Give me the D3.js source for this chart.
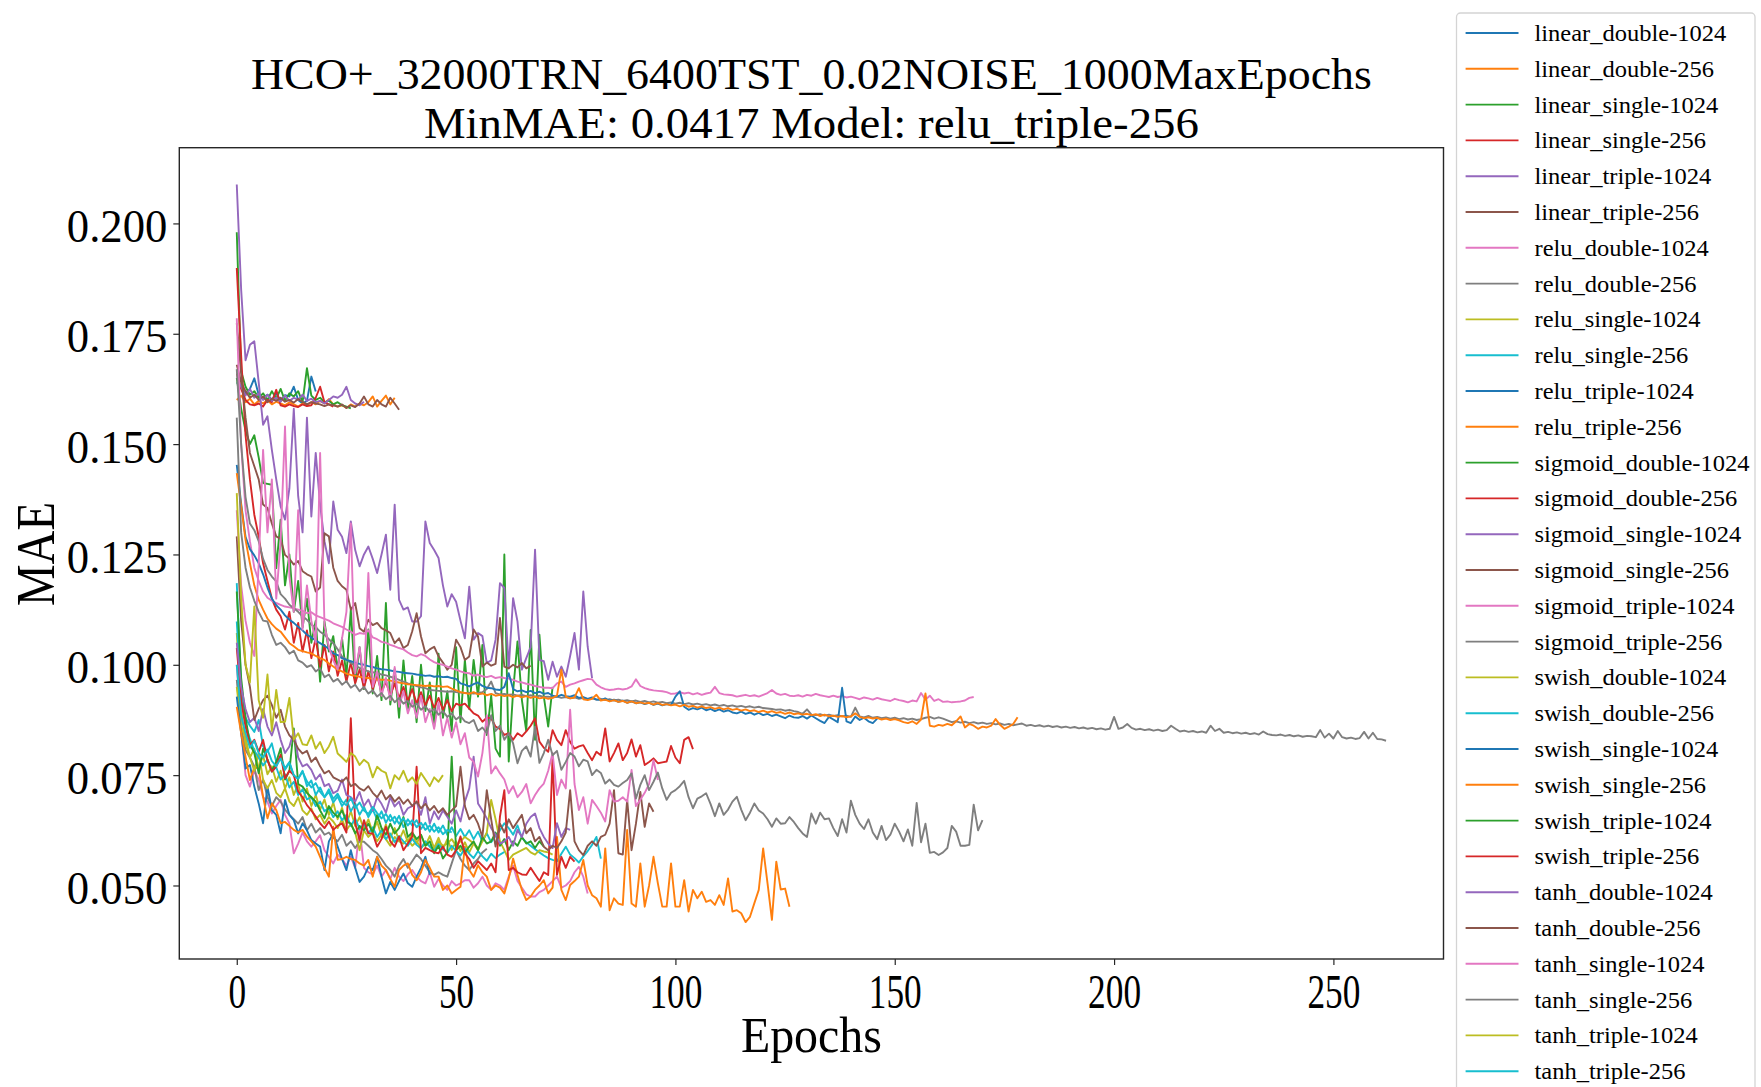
<!DOCTYPE html>
<html>
<head>
<meta charset="utf-8">
<script src="https://cdn.jsdelivr.net/npm/d3@7"></script>
<style>
  body { margin: 0; background: #fff; }
  svg { display: block; }
  text { font-family: "Liberation Serif", "Times New Roman", serif; fill: #000; }
</style>
</head>
<body>
<svg id="chart" width="1761" height="1087"></svg>
<script>
// ---- labels ----
const titleLines = ["HCO+_32000TRN_6400TST_0.02NOISE_1000MaxEpochs", "MinMAE: 0.0417 Model: relu_triple-256"];
const xLabel = "Epochs";
const yLabel = "MAE";
const xTicks = [0, 50, 100, 150, 200, 250];
const yTicks = [0.050, 0.075, 0.100, 0.125, 0.150, 0.175, 0.200];
const yTickLabels = ["0.050", "0.075", "0.100", "0.125", "0.150", "0.175", "0.200"];

const seriesNames = [
  "linear_double-1024", "linear_double-256", "linear_single-1024", "linear_single-256",
  "linear_triple-1024", "linear_triple-256", "relu_double-1024", "relu_double-256",
  "relu_single-1024", "relu_single-256", "relu_triple-1024", "relu_triple-256",
  "sigmoid_double-1024", "sigmoid_double-256", "sigmoid_single-1024", "sigmoid_single-256",
  "sigmoid_triple-1024", "sigmoid_triple-256", "swish_double-1024", "swish_double-256",
  "swish_single-1024", "swish_single-256", "swish_triple-1024", "swish_triple-256",
  "tanh_double-1024", "tanh_double-256", "tanh_single-1024", "tanh_single-256",
  "tanh_triple-1024", "tanh_triple-256"
];

// ---- validation MAE per epoch (index = epoch) ----
const linear_double_1024 = [0.1640,0.1630,0.1615,0.1625,0.1649,0.1612,0.1605,0.1612,0.1600,0.1615,0.1598,0.1611,0.1608,0.1630,0.1600,0.1592,0.1598,0.1653,0.1619];
const linear_double_256 = [0.1600,0.1610,0.1595,0.1603,0.1590,0.1598,0.1592,0.1600,0.1590,0.1596,0.1592,0.1588,0.1595,0.1590,0.1585,0.1592,0.1588,0.1595,0.1590,0.1598,0.1592,0.1602,0.1590,0.1585,0.1588,0.1582,0.1590,0.1585,0.1592,0.1588,0.1595,0.1608,0.1585,0.1598,0.1610,0.1590,0.1605];
const linear_single_1024 = [0.1980,0.1665,0.1630,0.1612,0.1620,0.1605,0.1615,0.1600,0.1620,0.1603,0.1625,0.1598,0.1615,0.1608,0.1620,0.1595,0.1672,0.1610,0.1600,0.1605,0.1595,0.1598,0.1590,0.1595,0.1588,0.1585,0.1581];
const linear_single_256 = [0.1660,0.1625,0.1600,0.1590,0.1588,0.1592,0.1585,0.1600,0.1595,0.1623,0.1588,0.1585,0.1590,0.1586,0.1584,0.1590,0.1586,0.1588,0.1605,0.1630,0.1595,0.1590,0.1585];
const linear_triple_1024 = [0.1650,0.1630,0.1610,0.1625,0.1605,0.1615,0.1600,0.1612,0.1598,0.1605,0.1596,0.1610,0.1598,0.1605,0.1600,0.1612,0.1598,0.1603,0.1595,0.1598,0.1592,0.1600,0.1608,0.1605,0.1612,0.1630,0.1600,0.1592,0.1588,0.1596];
const linear_triple_256 = [0.1680,0.1640,0.1620,0.1605,0.1612,0.1600,0.1608,0.1595,0.1603,0.1598,0.1605,0.1596,0.1600,0.1594,0.1602,0.1596,0.1590,0.1595,0.1592,0.1590,0.1586,0.1590,0.1588,0.1585,0.1590,0.1582,0.1588,0.1584,0.1592,0.1608,0.1590,0.1585,0.1600,0.1590,0.1585,0.1605,0.1592,0.1578];

const relu_double_1024 = [0.1000,0.0850,0.0750,0.0724,0.0760,0.0740,0.0700,0.0690,0.0663,0.0680,0.0694,
  0.0660,0.0640,0.0573,0.0595,0.0620,0.0600,0.0588,0.0600,0.0614,0.0580,
  0.0565,0.0550,0.0570,0.0560,0.0545,0.0565,0.0540,0.0629,0.0540,0.0530,
  0.0525,0.0545,0.0520,0.0535,0.0515,0.0540,0.0520,0.0510,0.0525,0.0535,
  0.0520,0.0510,0.0505,0.0530,0.0497,0.0515,0.0500,0.0490,0.0510,0.0500,
  0.0505,0.0512,0.0512,0.0495,0.0505,0.0520,0.0500,0.0490,0.0505,0.0500,
  0.0490,0.0520,0.0545,0.0510,0.0495,0.0480,0.0475,0.0475,0.0485,0.0490,
  0.0500,0.0510,0.0520,0.0495,0.0500,0.0510,0.0530,0.0542,0.0520,0.0482];
const relu_double_256 = [0.0966,0.0860,0.0807,0.0790,0.0770,0.0716,0.0740,0.0700,0.0680,0.0700,0.0690,
  0.0672,0.0660,0.0650,0.0640,0.0655,0.0625,0.0640,0.0620,0.0630,0.0615,
  0.0620,0.0608,0.0600,0.0615,0.0590,0.0600,0.0585,0.0600,0.0599,0.0590,
  0.0580,0.0573,0.0560,0.0545,0.0535,0.0520,0.0545,0.0560,0.0540,0.0555,
  0.0570,0.0560,0.0545,0.0530,0.0524,0.0530,0.0524,0.0520,0.0550,0.0580,
  0.0560,0.0545,0.0535,0.0550,0.0560,0.0575,0.0583];
const relu_single_1024 = [0.0950,0.0860,0.0835,0.0790,0.0810,0.0765,0.0795,0.0752,0.0770,0.0735,0.0760,
  0.0720,0.0745,0.0705,0.0730,0.0690,0.0720,0.0680,0.0705,0.0672,0.0695,
  0.0660,0.0688,0.0650,0.0676,0.0640,0.0668,0.0635,0.0655,0.0628,0.0650,
  0.0620,0.0645,0.0612,0.0638,0.0608,0.0630,0.0602,0.0625,0.0598,0.0620,
  0.0595,0.0615,0.0590,0.0612,0.0585,0.0608,0.0582,0.0605,0.0580,0.0600,
  0.0578,0.0598,0.0575,0.0595,0.0585];
const relu_single_256 = [0.1185,0.0950,0.0880,0.0862,0.0848,0.0875,0.0815,0.0803,0.0822,0.0780,0.0792,
  0.0765,0.0780,0.0748,0.0742,0.0760,0.0725,0.0738,0.0705,0.0722,0.0700,
  0.0712,0.0688,0.0702,0.0680,0.0695,0.0668,0.0686,0.0660,0.0678,0.0655,
  0.0672,0.0650,0.0668,0.0642,0.0660,0.0640,0.0658,0.0632,0.0650,0.0636,
  0.0648,0.0628,0.0642,0.0622,0.0640,0.0620,0.0636,0.0615,0.0632,0.0612,
  0.0628,0.0610,0.0625,0.0605,0.0622,0.0600,0.0618,0.0598,0.0612,0.0625,
  0.0641,0.0630,0.0615,0.0636,0.0608,0.0598,0.0590,0.0582,0.0575,0.0568,
  0.0562,0.0558,0.0555,0.0572,0.0588,0.0570,0.0562,0.0552,0.0566,0.0578,0.0592,0.0610,0.0561];
const relu_triple_1024 = [0.0928,0.0845,0.0765,0.0773,0.0724,0.0686,0.0641,0.0724,0.0671,0.0660,0.0618,
  0.0694,0.0660,0.0648,0.0618,0.0641,0.0625,0.0603,0.0595,0.0588,0.0535,
  0.0600,0.0618,0.0588,0.0560,0.0535,0.0580,0.0540,0.0508,0.0520,0.0542,
  0.0535,0.0565,0.0520,0.0482,0.0508,0.0490,0.0510,0.0527,0.0505,0.0497,
  0.0520,0.0540,0.0565,0.0524];
const relu_triple_256 = [0.0905,0.0845,0.0792,0.0739,0.0768,0.0765,0.0701,0.0652,0.0686,0.0671,0.0641,
  0.0644,0.0635,0.0626,0.0620,0.0626,0.0611,0.0600,0.0588,0.0565,0.0540,
  0.0520,0.0633,0.0558,0.0560,0.0565,0.0560,0.0558,0.0550,0.0545,0.0558,
  0.0520,0.0565,0.0545,0.0535,0.0515,0.0497,0.0535,0.0545,0.0550,0.0524,
  0.0512,0.0530,0.0558,0.0540,0.0520,0.0520,0.0490,0.0500,0.0482,0.0490,
  0.0497,0.0588,0.0535,0.0520,0.0546,0.0530,0.0520,0.0490,0.0500,0.0495,
  0.0482,0.0516,0.0561,0.0524,0.0490,0.0467,0.0475,0.0490,0.0500,0.0512,
  0.0482,0.0495,0.0610,0.0490,0.0467,0.0501,0.0510,0.0520,0.0558,0.0500,
  0.0478,0.0471,0.0452,0.0584,0.0444,0.0471,0.0459,0.0456,0.0626,0.0459,
  0.0452,0.0550,0.0452,0.0500,0.0565,0.0505,0.0452,0.0452,0.0550,0.0452,
  0.0452,0.0512,0.0441,0.0490,0.0471,0.0486,0.0463,0.0467,0.0456,0.0478,
  0.0456,0.0516,0.0441,0.0444,0.0437,0.0417,0.0429,0.0460,0.0490,0.0584,
  0.0505,0.0422,0.0554,0.0491,0.0493,0.0452];

const sigmoid_double_1024 = [0.1650,0.1580,0.1530,0.1500,0.1520,0.1470,0.1412,0.1410,0.1408,0.1219,0.1329,
  0.1180,0.1250,0.1120,0.1190,0.1085,0.1150,0.1050,0.1100,0.0962,0.1098,
  0.1030,0.1065,0.0990,0.1060,0.0975,0.1125,0.0960,0.1040,0.0945,0.1080,
  0.0935,0.1020,0.0920,0.1140,0.0910,0.0990,0.0880,0.1010,0.0900,0.0975,
  0.0870,0.1000,0.0895,0.0960,0.0860,0.1025,0.0880,0.0940,0.0850,0.1040,
  0.0870,0.1011,0.0900,0.1011,0.0928,0.1045,0.0841,0.0930,0.0810,0.0792,
  0.1250,0.0781,0.0940,0.1053,0.0920,0.0850,0.1079,0.0830,0.1068,0.0928,0.0860,0.0950];
const sigmoid_double_256 = [0.1899,0.1700,0.1520,0.1420,0.1340,0.1290,0.1230,0.1190,0.1150,0.1125,0.1110,
  0.1080,0.1120,0.1050,0.1095,0.1030,0.1078,0.1015,0.1060,0.0995,0.1045,
  0.0985,0.1030,0.0975,0.1010,0.0962,0.1005,0.0958,0.0990,0.0948,0.0985,
  0.0945,0.0975,0.0938,0.0962,0.0930,0.0958,0.0925,0.0950,0.0918,0.0945,
  0.0912,0.0938,0.0908,0.0930,0.0902,0.0925,0.0898,0.0920,0.0895,0.0912,
  0.0908,0.0912,0.0901,0.0890,0.0885,0.0871,0.0880,0.0879,0.0860,0.0855,
  0.0841,0.0845,0.0830,0.0845,0.0838,0.0849,0.0862,0.0879,0.0826,0.0812,
  0.0803,0.0852,0.0830,0.0818,0.0852,0.0825,0.0810,0.0815,0.0818,0.0800,
  0.0784,0.0803,0.0795,0.0856,0.0781,0.0800,0.0822,0.0784,0.0800,0.0831,
  0.0792,0.0818,0.0773,0.0780,0.0788,0.0777,0.0779,0.0781,0.0816,0.0790,
  0.0777,0.0830,0.0836,0.0809];
const sigmoid_single_1024 = [0.2088,0.1850,0.1690,0.1725,0.1733,0.1640,0.1544,0.1563,0.1487,0.1420,0.1359,
  0.1329,0.1400,0.1580,0.1382,0.1300,0.1560,0.1336,0.1480,0.1363,0.1280,
  0.1230,0.1370,0.1306,0.1290,0.1253,0.1325,0.1260,0.1223,0.1250,0.1268,
  0.1240,0.1208,0.1250,0.1295,0.1170,0.1363,0.1147,0.1125,0.1130,0.1098,
  0.1098,0.1110,0.1325,0.1276,0.1260,0.1242,0.1180,0.1132,0.1160,0.1143,
  0.1100,0.1060,0.1177,0.1057,0.1072,0.1065,0.1004,0.1010,0.1057,0.1185,
  0.1174,0.0992,0.1151,0.1098,0.0989,0.1015,0.1040,0.1261,0.1011,0.1008,
  0.0966,0.1007,0.0973,0.0996,0.0973,0.1020,0.1072,0.0989,0.1166,0.1041,0.0970];
const sigmoid_single_256 = [0.1774,0.1660,0.1560,0.1480,0.1450,0.1420,0.1363,0.1355,0.1320,0.1291,0.1285,
  0.1249,0.1240,0.1227,0.1235,0.1212,0.1205,0.1200,0.1166,0.1175,0.1298,
  0.1291,0.1220,0.1190,0.1178,0.1170,0.1125,0.1140,0.1083,0.1075,0.1102,
  0.1090,0.1095,0.1083,0.1078,0.1072,0.1049,0.1060,0.1038,0.1045,0.1076,
  0.1117,0.1064,0.1026,0.1035,0.1041,0.1019,0.1005,0.0989,0.1000,0.1057,
  0.1040,0.1011,0.1019,0.1080,0.1064,0.0996,0.1005,0.0998,0.1002,0.1106,
  0.0996,0.0992,0.1000,0.0994,0.1004,0.0992,0.0998];
const sigmoid_triple_1024 = [0.1785,0.1500,0.1350,0.1280,0.1220,0.1190,0.1166,0.1152,0.1145,0.1140,0.1136,
  0.1132,0.1130,0.1128,0.1125,0.1122,0.1117,0.1119,0.1112,0.1108,0.1104,
  0.1100,0.1094,0.1090,0.1086,0.1080,0.1075,0.1068,0.1072,0.1070,0.1078,
  0.1062,0.1058,0.1052,0.1050,0.1045,0.1042,0.1038,0.1035,0.1028,0.1022,
  0.1019,0.1024,0.1020,0.1012,0.1006,0.1002,0.1000,0.0996,0.0992,0.0989,
  0.0985,0.0982,0.0981,0.0975,0.0978,0.0974,0.0972,0.0975,0.0970,0.0972,
  0.0970,0.0969,0.0966,0.0962,0.0960,0.0957,0.0955,0.0952,0.0950,0.0948,
  0.0948,0.0947,0.0958,0.0962,0.0950,0.0955,0.0958,0.0962,0.0965,0.0968,
  0.0967,0.0955,0.0949,0.0945,0.0943,0.0944,0.0946,0.0944,0.0946,0.0951,
  0.0967,0.0952,0.0947,0.0944,0.0942,0.0941,0.0940,0.0938,0.0934,0.0935,
  0.0938,0.0935,0.0937,0.0933,0.0936,0.0932,0.0935,0.0937,0.0950,0.0936,
  0.0933,0.0932,0.0931,0.0928,0.0930,0.0932,0.0929,0.0931,0.0928,0.0932,
  0.0936,0.0943,0.0935,0.0932,0.0934,0.0930,0.0929,0.0931,0.0928,0.0932,
  0.0930,0.0934,0.0931,0.0929,0.0927,0.0930,0.0927,0.0929,0.0926,0.0928,
  0.0925,0.0922,0.0926,0.0924,0.0921,0.0925,0.0922,0.0920,0.0918,0.0923,
  0.0920,0.0918,0.0915,0.0919,0.0917,0.0936,0.0921,0.0930,0.0918,0.0922,
  0.0916,0.0917,0.0915,0.0916,0.0917,0.0919,0.0925,0.0927];
const sigmoid_triple_256 = [0.1670,0.1500,0.1380,0.1320,0.1305,0.1280,0.1240,0.1215,0.1200,0.1189,0.1160,
  0.1150,0.1136,0.1128,0.1120,0.1110,0.1102,0.1091,0.1085,0.1075,0.1068,
  0.1058,0.1049,0.1035,0.1019,0.1012,0.1004,0.0998,0.0993,0.0989,0.0985,
  0.0983,0.0981,0.0978,0.0976,0.0973,0.0970,0.0966,0.0962,0.0958,0.0955,
  0.0952,0.0949,0.0947,0.0943,0.0942,0.0941,0.0940,0.0939,0.0940,0.0938,
  0.0937,0.0936,0.0936,0.0935,0.0936,0.0938,0.0945,0.0962,0.0936,0.0933,
  0.0934,0.0932,0.0933,0.0930,0.0932,0.0929,0.0931,0.0928,0.0930,0.0927,
  0.0928,0.0926,0.0928,0.0925,0.0927,0.0924,0.0926,0.0923,0.0925,0.0922,
  0.0924,0.0921,0.0923,0.0920,0.0922,0.0919,0.0921,0.0918,0.0920,0.0917,
  0.0919,0.0916,0.0918,0.0915,0.0917,0.0914,0.0916,0.0913,0.0915,0.0912,
  0.0914,0.0911,0.0913,0.0910,0.0912,0.0909,0.0911,0.0908,0.0910,0.0907,
  0.0909,0.0906,0.0908,0.0905,0.0907,0.0904,0.0906,0.0903,0.0905,0.0902,
  0.0901,0.0900,0.0898,0.0899,0.0896,0.0898,0.0895,0.0893,0.0889,0.0899,
  0.0887,0.0886,0.0888,0.0885,0.0887,0.0884,0.0886,0.0883,0.0885,0.0882,
  0.0903,0.0883,0.0881,0.0884,0.0880,0.0882,0.0879,0.0881,0.0878,0.0880,
  0.0877,0.0879,0.0876,0.0878,0.0875,0.0877,0.0880,0.0882,0.0878,0.0881,
  0.0878,0.0874,0.0870,0.0872,0.0869,0.0871,0.0868,0.0870,0.0867,0.0869,
  0.0866,0.0868,0.0865,0.0867,0.0864,0.0866,0.0863,0.0865,0.0867,0.0862,
  0.0864,0.0861,0.0863,0.0860,0.0862,0.0859,0.0861,0.0858,0.0860,0.0857,
  0.0859,0.0856,0.0858,0.0855,0.0857,0.0854,0.0856,0.0853,0.0855,0.0882,
  0.0855,0.0858,0.0866,0.0857,0.0853,0.0855,0.0852,0.0854,0.0851,0.0853,
  0.0850,0.0852,0.0862,0.0855,0.0849,0.0851,0.0848,0.0850,0.0847,0.0849,
  0.0846,0.0862,0.0850,0.0855,0.0846,0.0848,0.0845,0.0847,0.0844,0.0846,
  0.0843,0.0845,0.0842,0.0849,0.0843,0.0841,0.0840,0.0842,0.0839,0.0841,
  0.0838,0.0840,0.0837,0.0839,0.0838,0.0836,0.0852,0.0835,0.0844,0.0833,
  0.0850,0.0836,0.0833,0.0835,0.0832,0.0834,0.0848,0.0833,0.0846,0.0832,0.0831,0.0828];

const swish_double_1024 = [0.1072,0.0900,0.0820,0.0790,0.0760,0.0800,0.0740,0.0720,0.0739,0.0710,0.0700,
  0.0720,0.0690,0.0680,0.0700,0.0670,0.0660,0.0675,0.0650,0.0660,0.0640,
  0.0655,0.0645,0.0630,0.0650,0.0625,0.0640,0.0620,0.0580,0.0625,0.0610,
  0.0620,0.0600,0.0615,0.0605,0.0590,0.0610,0.0600,0.0595,0.0605,0.0590,
  0.0600,0.0585,0.0595,0.0590,0.0580,0.0600,0.0590,0.0595,0.0605,0.0590,
  0.0600,0.0610,0.0603,0.0595,0.0580,0.0600,0.0620,0.0694,0.0650,0.0600,
  0.0580,0.0558,0.0570,0.0575,0.0580,0.0585,0.0575,0.0570,0.0580,0.0577,0.0575,0.0570];
const swish_double_256 = [0.1098,0.0925,0.0865,0.0832,0.0805,0.0790,0.0772,0.0785,0.0758,0.0768,0.0740,
  0.0752,0.0722,0.0735,0.0705,0.0718,0.0695,0.0700,0.0680,0.0690,0.0668,
  0.0676,0.0655,0.0668,0.0648,0.0660,0.0635,0.0652,0.0628,0.0640,0.0618,
  0.0632,0.0610,0.0625,0.0605,0.0618,0.0598,0.0612,0.0600,0.0590,0.0606,
  0.0592,0.0584,0.0600,0.0588,0.0578,0.0594,0.0582,0.0574,0.0590,0.0578,
  0.0568,0.0584,0.0572,0.0562,0.0578,0.0566,0.0556,0.0572,0.0562,0.0570,0.0576];
const swish_single_1024 = [0.1453,0.1365,0.1290,0.1262,0.1248,0.1230,0.1205,0.1175,0.1150,0.1135,0.1125,
  0.1112,0.1102,0.1095,0.1086,0.1078,0.1068,0.1062,0.1055,0.1049,0.1043,
  0.1036,0.1026,0.1022,0.1015,0.1011,0.1008,0.1005,0.1002,0.1000,0.0997,
  0.0995,0.0992,0.0990,0.0989,0.0987,0.0985,0.0984,0.0982,0.0981,0.0980,
  0.0978,0.0977,0.0975,0.0976,0.0973,0.0974,0.0972,0.0973,0.0970,0.0968,
  0.0958,0.0955,0.0951,0.0956,0.0960,0.0952,0.0948,0.0947,0.0944,0.0943,
  0.0950,0.0981,0.0945,0.0940,0.0942,0.0938,0.0941,0.0936,0.0939,0.0934,
  0.0936,0.0930,0.0928,0.0932,0.0929,0.0928,0.0931,0.0925,0.0927,0.0923,
  0.0926,0.0921,0.0920,0.0924,0.0918,0.0921,0.0916,0.0919,0.0914,0.0917,
  0.0913,0.0915,0.0911,0.0914,0.0909,0.0912,0.0908,0.0911,0.0909,0.0928,
  0.0940,0.0905,0.0898,0.0902,0.0899,0.0903,0.0897,0.0900,0.0895,0.0899,
  0.0894,0.0897,0.0892,0.0890,0.0894,0.0889,0.0892,0.0887,0.0891,0.0886,
  0.0889,0.0884,0.0887,0.0883,0.0879,0.0885,0.0881,0.0880,0.0884,0.0878,
  0.0885,0.0879,0.0873,0.0868,0.0882,0.0876,0.0870,0.0948,0.0872,0.0868,
  0.0883,0.0875,0.0880,0.0872,0.0868,0.0878];
const swish_single_256 = [0.1434,0.1360,0.1283,0.1230,0.1180,0.1147,0.1125,0.1105,0.1092,0.1082,0.1075,
  0.1062,0.1049,0.1042,0.1034,0.1031,0.1028,0.1026,0.1020,0.1015,0.1011,
  0.1003,0.0996,0.0989,0.0985,0.0980,0.0977,0.0975,0.0973,0.0971,0.0970,
  0.0968,0.0967,0.0966,0.0966,0.0964,0.0962,0.0960,0.0958,0.0956,0.0955,
  0.0954,0.0953,0.0952,0.0953,0.0951,0.0952,0.0950,0.0951,0.0946,0.0942,
  0.0938,0.0936,0.0934,0.0938,0.0933,0.0935,0.0931,0.0934,0.0930,0.0932,
  0.0929,0.0931,0.0927,0.0930,0.0926,0.0929,0.0925,0.0928,0.0924,0.0926,
  0.0923,0.0925,0.0930,0.0989,0.0928,0.0924,0.0926,0.0947,0.0922,0.0920,
  0.0923,0.0932,0.0919,0.0921,0.0917,0.0920,0.0916,0.0918,0.0914,0.0917,
  0.0913,0.0915,0.0912,0.0914,0.0910,0.0913,0.0909,0.0911,0.0908,0.0910,
  0.0906,0.0909,0.0905,0.0907,0.0903,0.0906,0.0902,0.0904,0.0900,0.0903,
  0.0899,0.0902,0.0898,0.0900,0.0896,0.0899,0.0895,0.0897,0.0893,0.0896,
  0.0892,0.0895,0.0891,0.0893,0.0889,0.0892,0.0888,0.0890,0.0887,0.0889,
  0.0886,0.0888,0.0884,0.0887,0.0883,0.0885,0.0882,0.0884,0.0881,0.0883,
  0.0890,0.0882,0.0879,0.0881,0.0878,0.0880,0.0876,0.0878,0.0875,0.0877,
  0.0874,0.0870,0.0868,0.0872,0.0866,0.0876,0.0935,0.0862,0.0860,0.0864,
  0.0862,0.0866,0.0863,0.0872,0.0883,0.0858,0.0866,0.0862,0.0855,0.0860,
  0.0858,0.0862,0.0877,0.0864,0.0855,0.0860,0.0866,0.0881];
const swish_triple_1024 = [0.1166,0.0970,0.0880,0.0820,0.0800,0.0754,0.0810,0.0785,0.0760,0.0780,0.0811,
  0.0740,0.0760,0.0856,0.0730,0.0724,0.0710,0.0700,0.0690,0.0670,0.0652,
  0.0680,0.0665,0.0655,0.0670,0.0645,0.0640,0.0618,0.0635,0.0625,0.0640,
  0.0620,0.0660,0.0630,0.0615,0.0640,0.0618,0.0630,0.0655,0.0610,0.0620,
  0.0605,0.0615,0.0590,0.0600,0.0573,0.0590,0.0561,0.0575,0.0792,0.0580,
  0.0590,0.0575,0.0588,0.0600,0.0580,0.0610,0.0595,0.0600,0.0620,0.0590,
  0.0605,0.0580,0.0600,0.0590,0.0610,0.0595,0.0600,0.0585,0.0600,0.0588];
const swish_triple_256 = [0.1038,0.0920,0.0860,0.0818,0.0830,0.0803,0.0830,0.0784,0.0758,0.0770,0.0796,
  0.0743,0.0760,0.0750,0.0713,0.0700,0.0682,0.0670,0.0656,0.0641,0.0630,
  0.0645,0.0626,0.0635,0.0641,0.0620,0.0879,0.0641,0.0603,0.0648,0.0618,
  0.0618,0.0588,0.0605,0.0633,0.0600,0.0588,0.0611,0.0580,0.0595,0.0611,
  0.0769,0.0573,0.0585,0.0580,0.0575,0.0573,0.0588,0.0570,0.0565,0.0580,
  0.0611,0.0573,0.0560,0.0540,0.0555,0.0545,0.0535,0.0550,0.0530,0.0656,
  0.0716,0.0535,0.0540,0.0530,0.0525,0.0524,0.0540,0.0525,0.0510,0.0530,
  0.0524,0.0792,0.0524,0.0565,0.0540,0.0565,0.0554];

const tanh_double_1024 = [0.1050,0.0950,0.0900,0.0870,0.0880,0.0850,0.0900,0.0860,0.0840,0.0870,0.0830,
  0.0800,0.0815,0.0850,0.0790,0.0770,0.0775,0.0762,0.0740,0.0752,0.0725,
  0.0730,0.0709,0.0715,0.0740,0.0705,0.0700,0.0690,0.0712,0.0680,0.0695,
  0.0670,0.0700,0.0685,0.0665,0.0700,0.0679,0.0690,0.0660,0.0675,0.0680,
  0.0690,0.0660,0.0700,0.0640,0.0668,0.0650,0.0670,0.0656,0.0640,0.0670,
  0.0645,0.0690,0.0720,0.0792,0.0686,0.0670,0.0652,0.0630,0.0615,0.0595,
  0.0600,0.0610,0.0590,0.0626,0.0610,0.0640,0.0655,0.0663,0.0630,0.0610,
  0.0595,0.0585,0.0641,0.0610,0.0630,0.0626];
const tanh_double_256 = [0.1291,0.1100,0.1000,0.0950,0.0875,0.0900,0.0920,0.0930,0.0909,0.0880,0.0898,
  0.0860,0.0840,0.0830,0.0810,0.0799,0.0805,0.0780,0.0790,0.0770,0.0754,
  0.0760,0.0745,0.0740,0.0735,0.0745,0.0725,0.0730,0.0720,0.0715,0.0725,
  0.0710,0.0700,0.0715,0.0695,0.0705,0.0690,0.0700,0.0685,0.0695,0.0680,
  0.0690,0.0675,0.0685,0.0670,0.0680,0.0665,0.0675,0.0660,0.0670,0.0680,
  0.0769,0.0680,0.0650,0.0660,0.0640,0.0610,0.0716,0.0650,0.0588,0.0640,
  0.0620,0.0650,0.0630,0.0645,0.0660,0.0618,0.0630,0.0600,0.0610,0.0588,
  0.0580,0.0590,0.0585,0.0600,0.0620,0.0716,0.0600,0.0580,0.0569,0.0590,
  0.0600,0.0590,0.0610,0.0615,0.0640,0.0716,0.0573,0.0570,0.0694,0.0580,
  0.0640,0.0712,0.0633,0.0686,0.0667];
const tanh_single_1024 = [0.1350,0.1180,0.1100,0.1050,0.1020,0.1230,0.1487,0.1300,0.1420,0.1150,0.1280,
  0.1540,0.1200,0.1120,0.1350,0.1080,0.1180,0.1100,0.1050,0.1480,0.1090,
  0.1040,0.1010,0.0990,0.1060,0.1120,0.1320,0.0980,0.1040,0.0960,0.1208,
  0.0950,0.0985,0.0930,0.0970,0.0920,0.0995,0.0905,0.0940,0.0890,0.0920,
  0.0880,0.0930,0.0870,0.0900,0.0855,0.0915,0.0840,0.0880,0.0835,0.0870,
  0.0820,0.0845,0.0790,0.0780,0.0747,0.0800,0.0886,0.0754,0.0770,0.0754,
  0.0740,0.0709,0.0725,0.0700,0.0712,0.0730,0.0686,0.0705,0.0720,0.0731,
  0.0760,0.0800,0.0705,0.0740,0.0720,0.0898,0.0730,0.0671,0.0700,0.0640,
  0.0694,0.0680,0.0665,0.0645,0.0716,0.0690,0.0692,0.0700,0.0690,0.0762,
  0.0680,0.0694,0.0710,0.0730,0.0784,0.0739];
const tanh_single_256 = [0.1560,0.1300,0.1220,0.1175,0.1145,0.1120,0.1100,0.1098,0.1068,0.1045,0.1050,
  0.1040,0.1025,0.1032,0.1010,0.1005,0.0995,0.0999,0.0985,0.0992,0.0972,
  0.0978,0.0962,0.0968,0.0955,0.0963,0.0948,0.0955,0.0940,0.0950,0.0935,
  0.0942,0.0928,0.0936,0.0922,0.0930,0.0915,0.0925,0.0912,0.0918,0.0905,
  0.0912,0.0898,0.0906,0.0893,0.0900,0.0887,0.0895,0.0882,0.0890,0.0876,
  0.0884,0.0872,0.0868,0.0875,0.0850,0.0858,0.0845,0.0886,0.0850,0.0862,
  0.0830,0.0845,0.0822,0.0777,0.0805,0.0815,0.0792,0.0860,0.0778,0.0800,
  0.0830,0.0795,0.0805,0.0762,0.0780,0.0800,0.0792,0.0770,0.0785,0.0781,
  0.0750,0.0762,0.0755,0.0731,0.0740,0.0728,0.0724,0.0732,0.0739,0.0754,
  0.0697,0.0728,0.0750,0.0716,0.0735,0.0756,0.0720,0.0694,0.0710,0.0716,
  0.0725,0.0737,0.0700,0.0675,0.0697,0.0702,0.0709,0.0685,0.0657,0.0686,
  0.0660,0.0672,0.0690,0.0701,0.0672,0.0648,0.0665,0.0686,0.0670,0.0663,
  0.0650,0.0633,0.0652,0.0640,0.0641,0.0655,0.0644,0.0630,0.0618,0.0610,
  0.0663,0.0640,0.0665,0.0650,0.0652,0.0630,0.0612,0.0650,0.0620,0.0692,
  0.0660,0.0640,0.0628,0.0650,0.0620,0.0605,0.0635,0.0603,0.0615,0.0640,
  0.0622,0.0600,0.0627,0.0590,0.0687,0.0598,0.0640,0.0574,0.0576,0.0569,
  0.0575,0.0585,0.0635,0.0622,0.0590,0.0590,0.0592,0.0683,0.0625,0.0648];
const tanh_triple_1024 = [0.1389,0.1150,0.1000,0.0960,0.1132,0.0920,0.0880,0.0978,0.0850,0.0943,0.0870,
  0.0871,0.0925,0.0830,0.0845,0.0820,0.0818,0.0840,0.0810,0.0825,0.0800,
  0.0815,0.0837,0.0799,0.0790,0.0780,0.0800,0.0792,0.0773,0.0785,0.0777,
  0.0745,0.0769,0.0760,0.0755,0.0720,0.0750,0.0740,0.0760,0.0735,0.0745,
  0.0730,0.0755,0.0740,0.0725,0.0745,0.0735,0.0750];
const tanh_triple_256 = [0.1000,0.0885,0.0845,0.0812,0.0828,0.0800,0.0790,0.0808,0.0782,0.0770,0.0788,
  0.0762,0.0778,0.0750,0.0742,0.0758,0.0736,0.0722,0.0732,0.0712,0.0700,
  0.0718,0.0696,0.0708,0.0690,0.0682,0.0698,0.0676,0.0688,0.0670,0.0662,
  0.0678,0.0664,0.0652,0.0662,0.0646,0.0656,0.0640,0.0652,0.0636,0.0648,
  0.0632,0.0642,0.0626,0.0636,0.0622,0.0632,0.0616,0.0626,0.0620];

const seriesValues = [
  linear_double_1024, linear_double_256, linear_single_1024, linear_single_256,
  linear_triple_1024, linear_triple_256, relu_double_1024, relu_double_256,
  relu_single_1024, relu_single_256, relu_triple_1024, relu_triple_256,
  sigmoid_double_1024, sigmoid_double_256, sigmoid_single_1024, sigmoid_single_256,
  sigmoid_triple_1024, sigmoid_triple_256, swish_double_1024, swish_double_256,
  swish_single_1024, swish_single_256, swish_triple_1024, swish_triple_256,
  tanh_double_1024, tanh_double_256, tanh_single_1024, tanh_single_256,
  tanh_triple_1024, tanh_triple_256
];

// ---- drawing ----
const svg = d3.select("#chart");
const plot = { left: 179.3, right: 1443.5, top: 147.7, bottom: 959 };
const palette = d3.schemeCategory10;

// axis limits padded by 5% of the data span on each side
const maxEpoch = d3.max(seriesValues, s => s.length - 1);
const xPad = maxEpoch * 0.05;
const yMin = d3.min(seriesValues, s => d3.min(s));
const yMax = d3.max(seriesValues, s => d3.max(s));
const yPad = (yMax - yMin) * 0.05;

const x = d3.scaleLinear().domain([-xPad, maxEpoch + xPad]).range([plot.left, plot.right]);
const y = d3.scaleLinear().domain([yMin - yPad, yMax + yPad]).range([plot.bottom, plot.top]);

svg.append("rect").attr("width", 1761).attr("height", 1087).attr("fill", "#fff");

svg.append("defs").append("clipPath").attr("id", "plotClip")
  .append("rect").attr("x", plot.left).attr("y", plot.top)
  .attr("width", plot.right - plot.left).attr("height", plot.bottom - plot.top);

const line = d3.line().x((d, i) => x(i)).y(d => y(d));

const linesG = svg.append("g").attr("clip-path", "url(#plotClip)");
seriesValues.forEach((vals, k) => {
  linesG.append("path")
    .datum(vals)
    .attr("d", line)
    .attr("fill", "none")
    .attr("stroke", palette[k % 10])
    .attr("stroke-width", 1.9)
    .attr("stroke-linejoin", "round");
});

// frame
svg.append("rect")
  .attr("x", plot.left).attr("y", plot.top)
  .attr("width", plot.right - plot.left).attr("height", plot.bottom - plot.top)
  .attr("fill", "none").attr("stroke", "#262626").attr("stroke-width", 1.4);

// x axis
const xAxis = d3.axisBottom(x).tickValues(xTicks).tickSize(6).tickPadding(0).tickFormat(d3.format("d"));
const gx = svg.append("g").attr("transform", `translate(0,${plot.bottom})`).call(xAxis);
gx.select(".domain").remove();
gx.selectAll(".tick line").attr("stroke", "#262626").attr("stroke-width", 1.2);
gx.selectAll(".tick text")
  .attr("y", 49).attr("dy", null)
  .attr("font-size", 49).attr("font-family", "Liberation Serif")
  .each(function () {
    const t = d3.select(this);
    const w = this.getComputedTextLength();
    t.attr("textLength", w * 0.72).attr("lengthAdjust", "spacingAndGlyphs");
  });

// y axis
const yAxis = d3.axisLeft(y).tickValues(yTicks).tickSize(6).tickPadding(0)
  .tickFormat((d, i) => yTickLabels[i]);
const gy = svg.append("g").attr("transform", `translate(${plot.left},0)`).call(yAxis);
gy.select(".domain").remove();
gy.selectAll(".tick line").attr("stroke", "#262626").attr("stroke-width", 1.2);
gy.selectAll(".tick text")
  .attr("x", -12).attr("dy", null).attr("y", 18)
  .attr("font-size", 47).attr("font-family", "Liberation Serif")
  .attr("textLength", 100.5).attr("lengthAdjust", "spacingAndGlyphs");

// axis titles
svg.append("text")
  .attr("x", (plot.left + plot.right) / 2).attr("y", 1052)
  .attr("text-anchor", "middle").attr("font-size", 50)
  .attr("textLength", 141).attr("lengthAdjust", "spacingAndGlyphs")
  .text(xLabel);

svg.append("text")
  .attr("transform", `translate(54,554) rotate(-90)`)
  .attr("text-anchor", "middle").attr("font-size", 54)
  .attr("textLength", 104).attr("lengthAdjust", "spacingAndGlyphs")
  .text(yLabel);

// title
const titleWidths = [1121, 775];
const titleBaselines = [89.3, 138.3];
titleLines.forEach((t, i) => {
  svg.append("text")
    .attr("x", (plot.left + plot.right) / 2).attr("y", titleBaselines[i])
    .attr("text-anchor", "middle").attr("font-size", 44)
    .attr("textLength", titleWidths[i]).attr("lengthAdjust", "spacingAndGlyphs")
    .text(t);
});

// legend
const legend = svg.append("g");
legend.append("rect")
  .attr("x", 1456.5).attr("y", 13).attr("width", 298.5).attr("height", 1100)
  .attr("rx", 4).attr("fill", "#fff").attr("fill-opacity", 0.8)
  .attr("stroke", "#d4d4d4").attr("stroke-width", 1.3);
seriesNames.forEach((name, k) => {
  const cy = 33 + 35.8 * k;
  legend.append("line")
    .attr("x1", 1465.6).attr("x2", 1518.5).attr("y1", cy).attr("y2", cy)
    .attr("stroke", palette[k % 10]).attr("stroke-width", 1.9);
  const t = legend.append("text")
    .attr("x", 1534.5).attr("y", cy + 8)
    .attr("font-size", 23)
    .text(name);
  const w = t.node().getComputedTextLength();
  t.attr("textLength", w * 1.065).attr("lengthAdjust", "spacingAndGlyphs");
});
</script>
</body>
</html>
